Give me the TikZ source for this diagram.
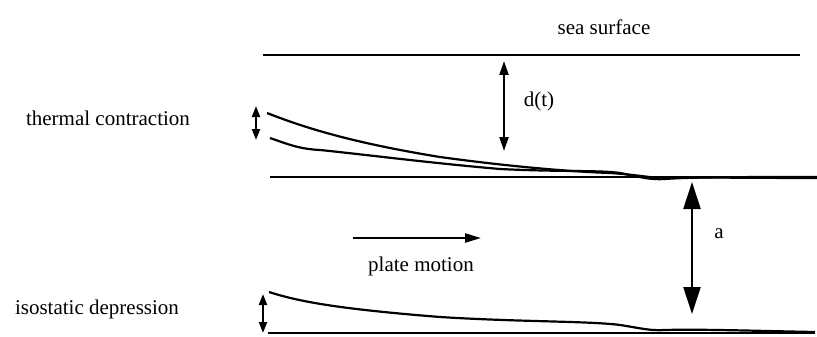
\documentclass[tikz,border=0pt]{standalone}
\usepackage{fontspec}
\setmainfont{Liberation Serif}
\usetikzlibrary{arrows.meta}
\begin{document}
\begin{tikzpicture}[x=1pt,y=-1pt,
  lbl/.style={inner sep=0pt,font=\fontsize{21}{25}\selectfont},
  ln/.style={line width=2.2pt},
  bigdbl/.style={line width=2.2pt,{Triangle[width=17pt,length=27pt]}-{Triangle[width=17pt,length=27pt]}},
  smalldbl/.style={line width=2.2pt,{Triangle[width=8pt,length=11pt]}-{Triangle[width=8pt,length=11pt]}},
  ddbl/.style={line width=2.2pt,{Triangle[width=9pt,length=14pt]}-{Triangle[width=9pt,length=14pt]}},
  motion/.style={line width=2.2pt,-{Triangle[width=9pt,length=16pt]}}]
\useasboundingbox (0,0) rectangle (817,337);
% labels
\node[lbl] (sea) at (604,27) {sea surface};
\node[lbl] (dt) at (539,101) {d(t)};
\node[lbl] (tc) at (108,118) {thermal contraction};
\node[lbl] (pm) at (421,266) {plate motion};
\node[lbl] (a) at (719,234) {a};
\node[lbl] (iso) at (97,309) {isostatic depression};
% sea surface
\coordinate (s1) at (263,55);
\coordinate (s2) at (800,55);
\draw[ln] (s1) -- (s2);
% d(t) arrow
\coordinate (d1) at (504,61);
\coordinate (d2) at (504,151);
\draw[ddbl] (d1) -- (d2);
% thermal contraction arrow
\coordinate (t1) at (256,106);
\coordinate (t2) at (256,140);
\draw[smalldbl] (t1) -- (t2);
% upper curve
\draw[ln] (267,113) .. controls (310,130) and (360,144) .. (440,157)
  .. controls (520,168) and (580,172) .. (610,173)
  .. controls (640,175) and (650,178) .. (665,178)
  .. controls (690,177) and (750,178) .. (817,178);
% lower curve
\draw[ln] (270,138) .. controls (290,145) and (300,149) .. (320,150)
  .. controls (360,154) and (430,163) .. (500,169)
  .. controls (560,172) and (600,170) .. (620,173)
  .. controls (640,177) and (650,180) .. (665,179)
  .. controls (690,177) and (750,177) .. (817,177);
% base line of thermal part
\coordinate (b1) at (270,177);
\coordinate (b2) at (817,177);
\draw[ln] (b1) -- (b2);
% a arrow
\coordinate (a1) at (692,182);
\coordinate (a2) at (692,314);
\draw[bigdbl] (a1) -- (a2);
% plate motion arrow
\coordinate (m1) at (353,238);
\coordinate (m2) at (481,238);
\draw[motion] (m1) -- (m2);
% isostatic arrow
\coordinate (i1) at (263,294);
\coordinate (i2) at (263,333);
\draw[smalldbl] (i1) -- (i2);
% bottom curve
\draw[ln] (269,292) .. controls (300,302) and (340,309) .. (440,317)
  .. controls (520,322) and (590,321) .. (620,325)
  .. controls (640,328) and (650,331) .. (665,330)
  .. controls (700,329) and (760,331) .. (815,332);
% bottom line
\coordinate (l1) at (268,333);
\coordinate (l2) at (815,333);
\draw[ln] (l1) -- (l2);
\end{tikzpicture}
\end{document}
